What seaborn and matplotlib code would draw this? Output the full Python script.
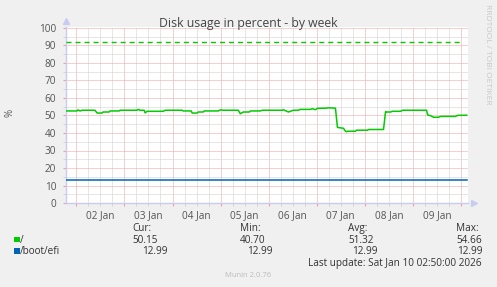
import matplotlib
matplotlib.use("Agg")
import matplotlib.pyplot as plt
import matplotlib.dates as mdates
from matplotlib.ticker import MultipleLocator, FuncFormatter, NullFormatter
from matplotlib.patches import Rectangle
import seaborn as sns
import pandas as pd

# ---------------- data ----------------
root_times = [
    "2026-01-01 19:00", "2026-01-02 00:20", "2026-01-02 00:50", "2026-01-02 01:50",
    "2026-01-02 02:50", "2026-01-02 09:20", "2026-01-02 10:20", "2026-01-02 12:50",
    "2026-01-02 13:20", "2026-01-02 16:20", "2026-01-02 16:50", "2026-01-02 21:20",
    "2026-01-02 21:50", "2026-01-03 06:20", "2026-01-03 06:50", "2026-01-03 07:50",
    "2026-01-03 09:50", "2026-01-03 10:20", "2026-01-03 11:20", "2026-01-03 19:20",
    "2026-01-03 20:20", "2026-01-04 04:50", "2026-01-04 05:20", "2026-01-04 09:20",
    "2026-01-04 09:50", "2026-01-04 12:20", "2026-01-04 12:50", "2026-01-04 15:20",
    "2026-01-04 15:50", "2026-01-04 22:50", "2026-01-04 23:50", "2026-01-05 01:20",
    "2026-01-05 08:50", "2026-01-05 09:50", "2026-01-05 11:20", "2026-01-05 14:20",
    "2026-01-05 14:50", "2026-01-05 19:50", "2026-01-05 20:50", "2026-01-06 06:50",
    "2026-01-06 07:20", "2026-01-06 09:50", "2026-01-06 12:20", "2026-01-06 14:50",
    "2026-01-06 15:50", "2026-01-06 20:50", "2026-01-06 21:50", "2026-01-06 23:20",
    "2026-01-07 00:20", "2026-01-07 05:00", "2026-01-07 05:30", "2026-01-07 09:20",
    "2026-01-07 10:20", "2026-01-07 13:20", "2026-01-07 14:20", "2026-01-07 14:50",
    "2026-01-07 15:20", "2026-01-07 19:20", "2026-01-07 19:50", "2026-01-08 01:20",
    "2026-01-08 01:50", "2026-01-08 09:20", "2026-01-08 10:20", "2026-01-08 10:50",
    "2026-01-08 12:50", "2026-01-08 13:50", "2026-01-08 17:50", "2026-01-08 18:50",
    "2026-01-09 06:50", "2026-01-09 07:20", "2026-01-09 08:50", "2026-01-09 10:20",
    "2026-01-09 12:50", "2026-01-09 13:50", "2026-01-09 21:20", "2026-01-09 22:20",
    "2026-01-10 02:50",
]
root_values = [
    52.6, 52.6, 53.2, 52.6,
    53.0, 53.0, 51.4, 51.4,
    52.0, 52.0, 52.6, 52.6,
    53.0, 53.0, 53.5, 53.0,
    53.0, 51.5, 52.4, 52.4,
    53.0, 53.0, 52.6, 52.6,
    51.4, 51.4, 52.0, 52.0,
    52.6, 52.6, 53.2, 53.0,
    53.0, 51.0, 52.0, 52.0,
    52.6, 52.6, 53.0, 53.0,
    53.3, 52.0, 53.0, 53.0,
    53.5, 53.5, 53.9, 53.3,
    54.1, 54.2, 54.4, 54.2,
    43.2, 42.7, 41.0, 40.7,
    41.0, 41.0, 41.6, 41.6,
    42.0, 42.0, 52.2, 52.0,
    52.0, 52.4, 52.4, 53.0,
    53.0, 50.3, 49.9, 49.0,
    49.0, 49.5, 49.5, 50.1,
    50.15,
]
boot_times = ["2026-01-01 19:00", "2026-01-10 02:50"]
boot_values = [12.99, 12.99]
root_warning = 92
warning_times = ["2026-01-01 19:00", "2026-01-10 00:50"]

series_labels = ["/", "/boot/efi"]
series_colors = ["#00cc00", "#0066b3"]
stat_headers = ["Cur:", "Min:", "Avg:", "Max:"]
root_stats = ["50.15", "40.70", "51.32", "54.66"]
boot_stats = ["12.99", "12.99", "12.99", "12.99"]
title = "Disk usage in percent - by week"
y_label = "%"
last_update = "Last update: Sat Jan 10 02:50:00 2026"
footer = "Munin 2.0.76"
side_text = "RRDTOOL / TOBI OETIKER"
x_start, x_end = "2026-01-01 18:50", "2026-01-10 03:30"

# ---------------- figure ----------------
W, H = 497, 287
plt.rcParams["font.family"] = ["Open Sans", "DejaVu Sans"]
fig = plt.figure(figsize=(W / 100, H / 100), dpi=100, facecolor="#f0f0f0")
ax = fig.add_axes([66 / W, 1 - 203 / H, (468 - 66) / W, (203 - 26.6) / H])
ax.set_facecolor("white")

df_root = pd.DataFrame({"time": pd.to_datetime(root_times), "value": root_values})
df_boot = pd.DataFrame({"time": pd.to_datetime(boot_times), "value": boot_values})
df_warn = pd.DataFrame({"time": pd.to_datetime(warning_times),
                        "value": [root_warning, root_warning]})

sns.lineplot(data=df_warn, x="time", y="value", color=series_colors[0], lw=1.0,
             ax=ax, estimator=None, sort=False, dashes=False, zorder=3)
ax.lines[-1].set_dashes([3.6, 2.9])
sns.lineplot(data=df_boot, x="time", y="value", color=series_colors[1], lw=1.1,
             ax=ax, estimator=None, sort=False, zorder=3)
sns.lineplot(data=df_root, x="time", y="value", color=series_colors[0], lw=1.1,
             ax=ax, estimator=None, sort=False, zorder=4)

ax.set_xlim(pd.Timestamp(x_start), pd.Timestamp(x_end))
ax.set_ylim(0, 100.8)

red = "#eea0a0"
gray = "#cfcfcf"
ax.yaxis.set_major_locator(MultipleLocator(10))
ax.yaxis.set_minor_locator(MultipleLocator(5))
ax.xaxis.set_major_locator(mdates.DayLocator())
ax.xaxis.set_major_formatter(NullFormatter())
ax.xaxis.set_minor_locator(mdates.HourLocator(byhour=[0, 6, 12, 18]))
ax.xaxis.set_minor_formatter(FuncFormatter(
    lambda v, p: mdates.num2date(v).strftime("%d Jan") if mdates.num2date(v).hour == 12 else ""))

ax.grid(which="major", color=red, linestyle=(0, (1, 1)), lw=0.72, zorder=1)
ax.grid(which="minor", color=gray, linestyle=(0, (1, 1)), lw=0.72, zorder=0)
ax.set_axisbelow(True)

ax.tick_params(axis="y", which="major", length=2, color=red, labelsize=7.2,
               labelcolor="#555555", pad=5)
ax.tick_params(axis="y", which="minor", length=2, color=gray)
ax.tick_params(axis="x", which="major", length=2, color=red)
ax.tick_params(axis="x", which="minor", length=2, color=gray, labelsize=7.2,
               labelcolor="#555555", pad=3)

for s in ["top", "right"]:
    ax.spines[s].set_visible(False)
for s in ["left", "bottom"]:
    ax.spines[s].set_color("#c8ccf0")
    ax.spines[s].set_linewidth(1.0)
ax.plot([0], [1.03], marker="^", color="#c8ccf0", ms=4, transform=ax.transAxes, clip_on=False)
ax.plot([1.015], [0], marker=">", color="#c8ccf0", ms=4, transform=ax.transAxes, clip_on=False)

ax.set_xlabel("")
ax.set_ylabel("")


def fx(px):
    return px / W


def fy(py):
    return 1 - py / H


fig.text(fx(248), fy(26.5), title, ha="center", va="baseline", fontsize=8.8, color="#444444")
fig.text(fx(10), fy(113), y_label, ha="center", va="center", rotation=90, fontsize=7, color="#555555")
fig.text(fx(488), fy(4), side_text, ha="center", va="top", rotation=270, fontsize=6.0, color="#c8c8c8")

text_kw = dict(fontsize=7.2, color="#333333", va="baseline")
head_x = [132, 240, 348, 456]
root_x = [132, 240, 348, 456]
boot_x = [142, 247, 352, 457]
for h, xx in zip(stat_headers, head_x):
    fig.text(fx(xx), fy(231), h, ha="left", **text_kw)
for v, xx in zip(root_stats, root_x):
    fig.text(fx(xx), fy(243), v, ha="left", **text_kw)
for v, xx in zip(boot_stats, boot_x):
    fig.text(fx(xx), fy(254.5), v, ha="left", **text_kw)

for lab, col, yb in zip(series_labels, series_colors, [243, 254.5]):
    fig.patches.append(Rectangle((fx(14), fy(yb - 1)), 5.5 / W, 5.5 / H,
                                 transform=fig.transFigure, facecolor=col, edgecolor="none"))
    fig.text(fx(20), fy(yb), lab, ha="left", **text_kw)

fig.text(fx(482), fy(266), last_update, ha="right", **text_kw)
fig.text(fx(248), fy(277), footer, ha="center", va="baseline", fontsize=5.5, color="#bbbbbb")

fig.savefig("out.png", dpi=100, facecolor=fig.get_facecolor())
